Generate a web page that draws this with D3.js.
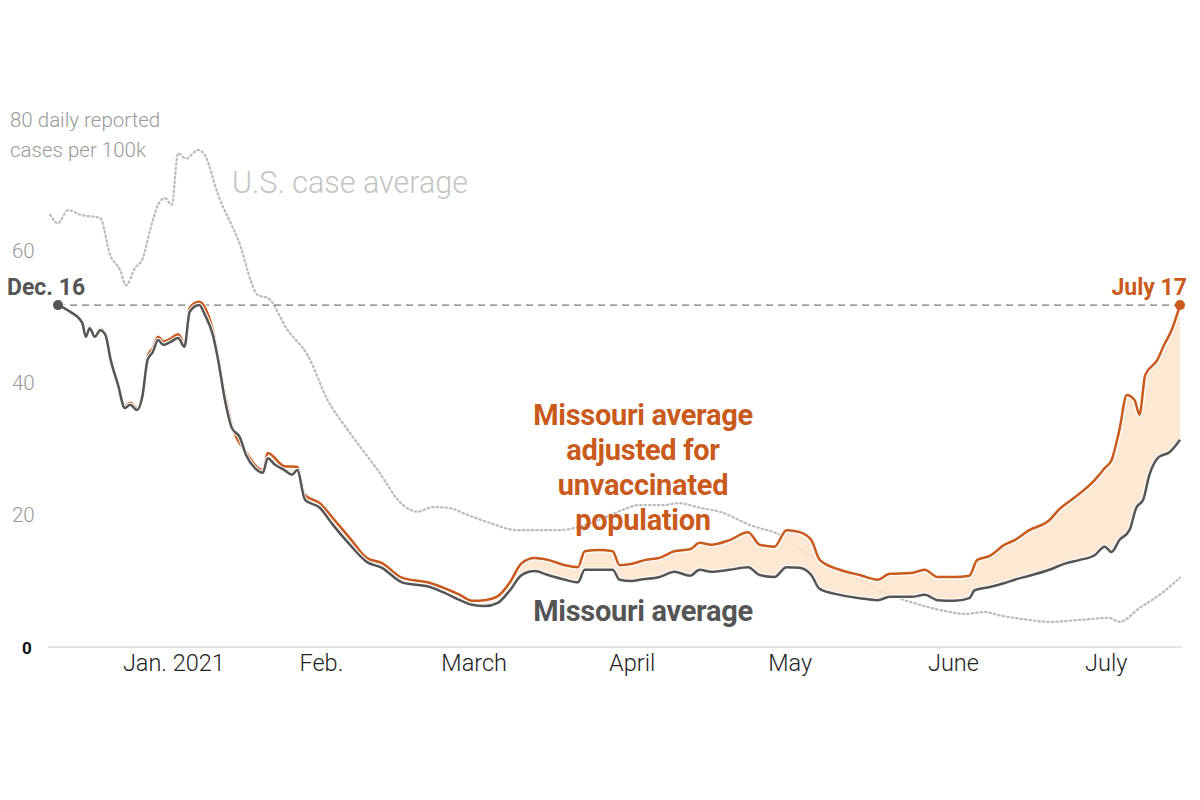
<!DOCTYPE html>
<html><head><meta charset="utf-8">
<script src="https://cdn.jsdelivr.net/npm/d3@7"></script>
<style>body{margin:0;background:#fff}svg{display:block}text{font-family:Roboto,"Liberation Sans",sans-serif}</style>
</head><body><svg id="c" width="1200" height="800"></svg>
<script>
// days since Dec. 16, 2020
const moDays=[0,2.3,4.6,5.3,6,7,8,9,10,11.4,12.7,13.7,15,16,17,18,19,20,21.3,22.8,24,25,26.8,27.9,29.4,30.4,31.7,33,34.5,35.7,37.4,38.9,39.8,41.2,43,44.4,45.4,46.9,49.7,52.2,55.4,58.6,61.5,65.3,70.6,73.4,76.3,78.6,81,83.5,85.8,88,90.5,93,96.2,98.7,100,102.8,105.3,106.6,109,110.4,114.2,117,120,121.8,124,127.5,131,133.2,136,138.3,140.8,143,144.6,148.4,152.2,155.6,157.9,162,164.5,167,170.2,173,174,176.9,179.7,181.6,184.4,188.2,191,194,196.8,198.7,200,201.5,203.4,204.7,206,207.2,209,211,213];
const moVals=[51.8,50.8,49.1,47,48.3,47,48,47.3,43.5,39.7,36.2,36.7,35.9,37.9,43.5,44.7,46.5,45.8,46.2,46.8,45.5,50.8,51.8,50.3,47.3,43.5,37.4,33.2,31.8,29.1,27.1,26.4,28.6,27.6,26.8,26.1,26.8,22.3,21.1,18.5,15.5,12.9,12,9.8,9.1,8.2,7.1,6.4,6.2,6.7,8.6,10.9,11.5,10.9,10.2,9.8,11.7,11.7,11.7,10.2,10,10.2,10.6,11.4,10.8,11.7,11.4,11.7,12.1,10.9,10.6,12.1,12,10.9,8.8,7.9,7.4,7.1,7.6,7.6,7.9,7.1,7,7.4,8.6,9.1,9.7,10.2,10.8,11.7,12.6,13.2,13.9,15.2,14.4,16.2,17.7,21.1,22.3,26.1,28.8,29.5,31.4];
const adjDays=[0,2.3,4.6,5.3,6,7,8,9,10,11.4,12.7,13.7,15,16,17,18,19,20,21.3,22.8,24,25,26.8,29.4,31.7,33,35.7,38.9,39.8,43,45.4,46.9,49.7,52.2,55.4,58.6,61.5,65.3,70.6,76.3,78.6,81,83.5,85.8,88,90.5,93,96.2,98.7,100,102.8,105.3,106.6,109,111.5,114.2,117,120,121.8,124,127.5,131,133.2,136,138.3,140.8,143,144.6,148.4,152.2,155.6,157.9,162,164.5,167,170.2,173,174.5,176.9,179.7,181.6,184.4,188.2,190,192.9,194.8,196.8,198.7,200,201.5,202.9,204.4,205.3,206.4,208.7,210,211.4,213];
const adjVals=[51.8,50.9,49.3,47.2,48.5,47.2,48.2,47.5,43.8,40,36.5,37,36.2,38.3,44,45.3,47,46.3,46.7,47.4,46.1,51.4,52.3,48,38.2,33.6,29.5,26.8,29.4,27.4,27.3,23,21.8,19.5,16.5,13.5,12.7,10.5,9.7,7.9,7,7.1,7.7,9.8,12.7,13.5,13.2,12.4,12.1,14.5,14.7,14.5,12.4,12.6,13.2,13.5,14.5,14.8,15.8,15.5,16.2,17.4,15.5,15.2,17.7,17.4,16.2,13.2,11.7,10.9,10.2,11.1,11.2,11.7,10.6,10.6,10.8,13.2,13.8,15.5,16.2,17.7,19.2,20.8,22.6,23.8,25.3,27.1,28.3,32.9,38.2,37.4,35.2,41.2,43.5,45.8,48,51.8];
const usDays=[-1.5,0,1.9,4.2,8,9.9,11.8,12.9,14.6,16.1,17.5,19,20.3,21.6,22.8,24.3,26.6,27.9,30.4,34.2,38,39.8,43.6,47.4,51.2,55,60.7,65.5,68.3,71.2,74,77.8,81.6,87.3,94.9,102.6,107.3,110.2,115,117.8,121.8,125.6,131.3,137,142.7,150.3,157.9,163.6,169.3,172.1,175.9,178.7,184.4,188.2,193.9,199.6,201.5,205.3,209.1,213];
const usVals=[65.5,64.2,66.2,65.5,65,59.4,57.1,54.8,57.4,58.9,63.2,67,68,67,74.8,74,75.3,74.5,68.5,61.7,53.3,52.9,48,44.2,37.4,32.9,26.8,21.5,20.5,21.2,21.1,20,18.9,17.7,17.7,19.2,20.8,21.5,21.5,21.8,21.1,20.5,18.5,17,13.9,10.9,7.9,6.4,5.3,5,5.3,4.8,4.1,3.8,4.1,4.4,3.8,5.9,7.9,10.5];
const yTicks=[20,40,60];
const monthLabels=["Jan. 2021","Feb.","March","April","May","June","July"];
const monthLabelDates=["2021-01-07","2021-02-04","2021-03-05","2021-04-04","2021-05-04","2021-06-04","2021-07-03"];
const startDate=new Date(2020,11,16), endDate=new Date(2021,6,17);
const refValue=51.8;

const svg=d3.select("#c");
const day=d=>new Date(startDate.getTime()+d*864e5);
const x=d3.scaleTime().domain([startDate,endDate]).range([58,1180]);
const y=d3.scaleLinear().domain([0,80]).range([647,119]);
const mo=moDays.map((d,i)=>[day(d),moVals[i]]);
const adj=adjDays.map((d,i)=>[day(d),adjVals[i]]);
const us=usDays.map((d,i)=>[day(d),usVals[i]]);
const line=d3.line().x(d=>x(d[0])).y(d=>y(d[1])).curve(d3.curveMonotoneX);

svg.append("line").attr("x1",48).attr("x2",1182).attr("y1",y(0)).attr("y2",y(0)).attr("stroke","#ddd").attr("stroke-width",1.5);
svg.selectAll(".yt").data(yTicks).join("text").attr("x",12).attr("y",d=>y(d)+7).attr("font-size",20.5).attr("fill","#999").style("font-weight",300).text(d=>d);
svg.append("text").attr("x",22).attr("y",y(0)+7).attr("font-size",17).attr("font-weight","bold").attr("fill","#111").text("0");
const yl=svg.append("text").attr("font-size",20.5).attr("fill","#999").style("font-weight",300);
yl.append("tspan").attr("x",10).attr("y",127).text("80 daily reported");
yl.append("tspan").attr("x",10).attr("y",157).text("cases per 100k");
svg.selectAll(".ml").data(monthLabels).join("text").attr("x",(d,i)=>x(new Date(monthLabelDates[i]+"T00:00"))).attr("y",671).attr("text-anchor","middle").attr("font-size",23.5).attr("fill","#222").style("font-weight",300).text(d=>d);

svg.append("path").attr("d",line(us)).attr("fill","none").attr("stroke","#bbb").attr("stroke-width",2.2).attr("stroke-dasharray","1.5,3").attr("stroke-linecap","round");
svg.append("text").attr("x",232).attr("y",193).attr("font-size",30.5).attr("fill","#c4c4c4").style("font-weight",300).text("U.S. case average");

svg.append("line").attr("x1",x(startDate)).attr("x2",x(endDate)).attr("y1",y(refValue)).attr("y2",y(refValue)).attr("stroke","#777").attr("stroke-width",1.2).attr("stroke-dasharray","7,5");

svg.append("path").attr("d",line(adj)+"L"+line(mo.slice().reverse()).slice(1)+"Z").attr("fill","#fde5cf").attr("opacity",0.9);
svg.append("path").attr("d",line(adj)).attr("fill","none").attr("stroke","#fff").attr("stroke-width",5);
svg.append("path").attr("d",line(adj)).attr("fill","none").attr("stroke","#c95a1b").attr("stroke-width",2.5);
svg.append("path").attr("d",line(mo)).attr("fill","none").attr("stroke","#fff").attr("stroke-width",4.5);
svg.append("path").attr("d",line(mo)).attr("fill","none").attr("stroke","#555").attr("stroke-width",2.5);

svg.append("circle").attr("cx",x(startDate)).attr("cy",y(moVals[0])).attr("r",5).attr("fill","#555");
svg.append("circle").attr("cx",x(endDate)).attr("cy",y(adjVals[adjVals.length-1])).attr("r",5).attr("fill","#c95a1b");
svg.append("text").attr("x",7).attr("y",295).attr("font-size",23).attr("font-weight","bold").attr("fill","#555").text("Dec. 16");
svg.append("text").attr("x",1187).attr("y",295).attr("text-anchor","end").attr("font-size",23).attr("font-weight","bold").attr("fill","#c95a1b").text("July 17");

const ann=svg.append("text").attr("text-anchor","middle").attr("font-size",29).attr("font-weight","bold").attr("fill","#c95a1b").attr("letter-spacing",-0.3);
["Missouri average","adjusted for","unvaccinated","population"].forEach((t,i)=>ann.append("tspan").attr("x",643).attr("y",425+i*35).text(t));
svg.append("text").attr("x",643).attr("y",621).attr("text-anchor","middle").attr("font-size",29).attr("font-weight","bold").attr("fill","#555").attr("letter-spacing",-0.3).text("Missouri average");
</script></body></html>
